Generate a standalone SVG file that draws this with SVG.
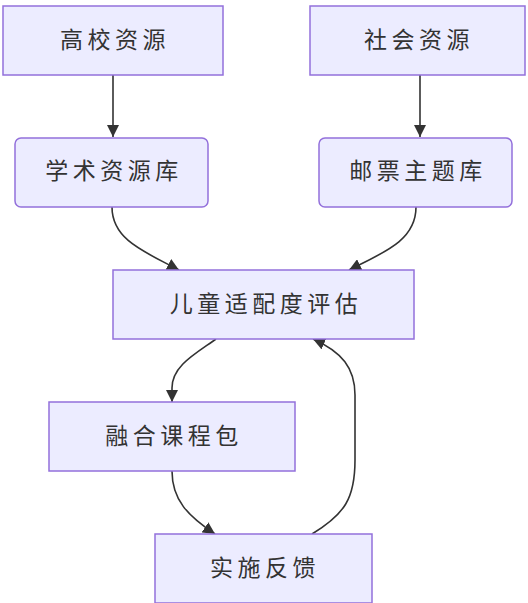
<svg xmlns="http://www.w3.org/2000/svg" width="528" height="603" viewBox="0 0 528 603">
<style>
.n{fill:#ECECFF;stroke:#9370DB;stroke-width:1.5}
.t{font-family:"Noto Sans CJK SC","Noto Sans",sans-serif;font-size:23px;fill:#333;text-anchor:middle;dominant-baseline:central;letter-spacing:4.5px}
.e{fill:none;stroke:#333;stroke-width:1.6}
</style>
<defs>
<marker id="ah" viewBox="0 0 10 10" refX="10" refY="5" markerWidth="12" markerHeight="12" markerUnits="userSpaceOnUse" orient="auto">
<path d="M0,0 L10,5 L0,10 z" fill="#333"/>
</marker>
</defs>
<g id="edges">
<path class="e" d="M113,75 L113,137" marker-end="url(#ah)"/>
<path class="e" d="M420,75 L420,137" marker-end="url(#ah)"/>
<path class="e" d="M112,207 C112,240 145,252 179,270" marker-end="url(#ah)"/>
<path class="e" d="M416,207 C416,240 385,252 349,270" marker-end="url(#ah)"/>
<path class="e" d="M216,339 C195,354 172,366 172,388 L172,402" marker-end="url(#ah)"/>
<path class="e" d="M172,471 C172,500 188,516 215,534" marker-end="url(#ah)"/>
<path class="e" d="M312,534 C345,514 355,498 355,460 L355,395 C355,368 342,352 313,339" marker-end="url(#ah)"/>
</g>
<g id="n1"><rect class="n" x="3" y="6" width="220" height="69"/><text class="t" x="115" y="38">高校资源</text></g>
<g id="n2"><rect class="n" x="310" y="6" width="215" height="69"/><text class="t" x="419" y="38">社会资源</text></g>
<g id="n3"><rect class="n" x="15" y="138" width="193" height="69" rx="6"/><text class="t" x="114" y="169">学术资源库</text></g>
<g id="n4"><rect class="n" x="319" y="138" width="193" height="69" rx="6"/><text class="t" x="418" y="169">邮票主题库</text></g>
<g id="n5"><rect class="n" x="113" y="270" width="301" height="69"/><text class="t" x="266" y="302">儿童适配度评估</text></g>
<g id="n6"><rect class="n" x="49" y="402" width="246" height="69"/><text class="t" x="174" y="434">融合课程包</text></g>
<g id="n7"><rect class="n" x="155" y="534" width="217" height="69"/><text class="t" x="265" y="566">实施反馈</text></g>
</svg>
